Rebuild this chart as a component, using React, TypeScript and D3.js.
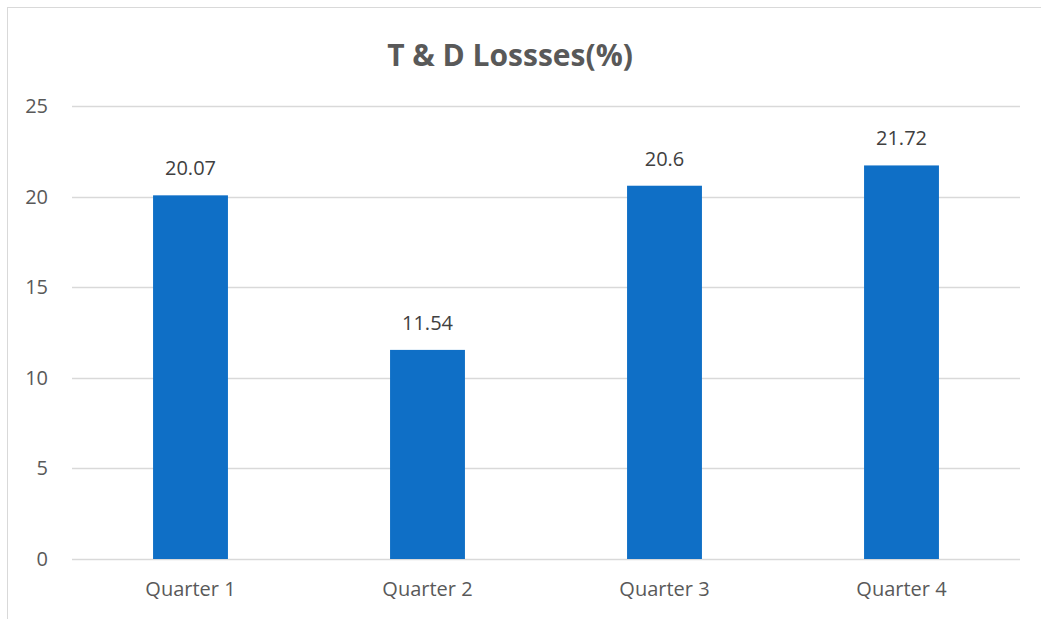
import { useEffect, useRef } from 'react'
import * as d3 from 'd3'

const categories = ['Quarter 1', 'Quarter 2', 'Quarter 3', 'Quarter 4']
const losses = [20.07, 11.54, 20.6, 21.72]
const yTicks = [0, 5, 10, 15, 20, 25]
const chartTitle = 'T & D Lossses(%)'

function App() {
  const chartRef = useRef<SVGSVGElement>(null)

  useEffect(() => {
    const width = 1041
    const height = 619
    const font = "'Open Sans', sans-serif"

    const svg = d3.select(chartRef.current)
    svg.selectAll('*').remove()

    // outer chart border (only top/left show in frame)
    svg.append('rect')
      .attr('x', 7.5)
      .attr('y', 7.5)
      .attr('width', width + 20)
      .attr('height', height + 20)
      .attr('fill', '#fff')
      .attr('stroke', '#d9d9d9')

    const x = d3.scaleBand()
      .domain(categories)
      .range([72, 1020])
      .paddingInner(0.684)
      .paddingOuter(0.342)

    const y = d3.scaleLinear()
      .domain([0, 25])
      .range([559, 106])

    // gridlines
    yTicks.forEach(t => {
      svg.append('line')
        .attr('x1', 72)
        .attr('x2', 1020)
        .attr('y1', Math.round(y(t)) + 0.5)
        .attr('y2', Math.round(y(t)) + 0.5)
        .attr('stroke', '#d9d9d9')
        .attr('stroke-width', 1.3)
    })

    // y labels
    yTicks.forEach(t => {
      svg.append('text')
        .attr('x', 48)
        .attr('y', y(t))
        .attr('dy', '0.35em')
        .attr('text-anchor', 'end')
        .style('font-family', font)
        .style('font-size', '20px')
        .style('fill', '#595959')
        .text(t)
    })

    // bars
    svg.selectAll('rect.bar')
      .data(losses)
      .enter()
      .append('rect')
      .attr('class', 'bar')
      .attr('x', (d, i) => x(categories[i])!)
      .attr('width', x.bandwidth())
      .attr('y', d => y(d))
      .attr('height', d => y(0) - y(d))
      .attr('fill', '#0f6fc6')

    // value labels
    losses.forEach((d, i) => {
      svg.append('text')
        .attr('x', x(categories[i])! + x.bandwidth() / 2)
        .attr('y', y(d) - 27)
        .attr('dy', '0.35em')
        .attr('text-anchor', 'middle')
        .style('font-family', font)
        .style('font-size', '20px')
        .style('fill', '#404040')
        .text(d)
    })

    // category labels
    categories.forEach(c => {
      svg.append('text')
        .attr('x', x(c)! + x.bandwidth() / 2)
        .attr('y', 589)
        .attr('dy', '0.35em')
        .attr('text-anchor', 'middle')
        .style('font-family', font)
        .style('font-size', '20px')
        .style('fill', '#595959')
        .text(c)
    })

    // title
    svg.append('text')
      .attr('x', 510)
      .attr('y', 55)
      .attr('dy', '0.35em')
      .attr('text-anchor', 'middle')
      .style('font-family', font)
      .style('font-size', '30px')
      .style('font-weight', 'bold')
      .style('fill', '#595959')
      .text(chartTitle)
  }, [])

  return (
    <svg
      ref={chartRef}
      width={1041}
      height={619}
      style={{ position: 'absolute', left: 0, top: 0, background: '#fff' }}
    />
  )
}

export default App
